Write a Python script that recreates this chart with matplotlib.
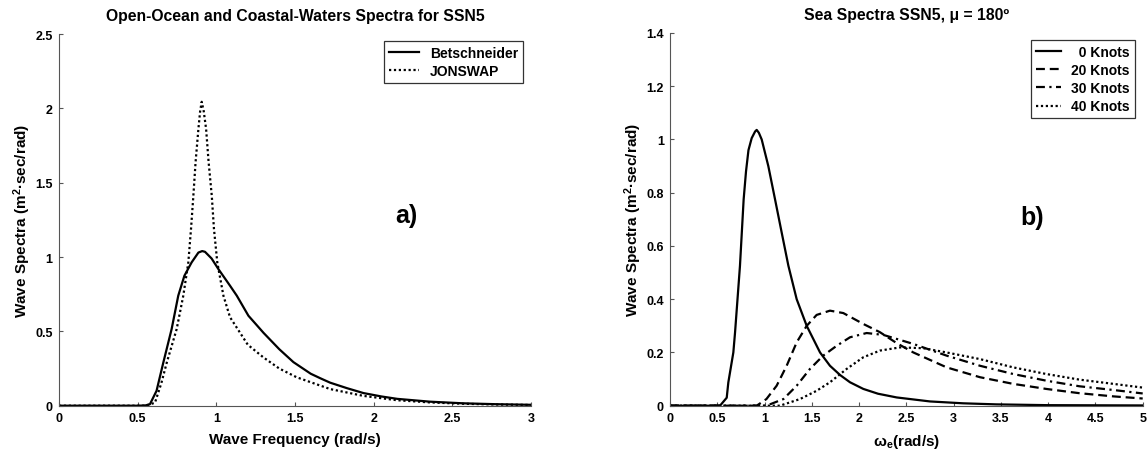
import matplotlib
matplotlib.use("Agg")
import matplotlib.pyplot as plt
from matplotlib.ticker import FuncFormatter

# ---------------- data ----------------
# Panel a) open-ocean vs coastal-waters spectra, SSN5
bret_w = [0.0, 0.5, 0.55, 0.578, 0.62, 0.663, 0.716, 0.758, 0.797, 0.843, 0.886, 0.91, 0.928,
          0.97, 1.013, 1.087, 1.13, 1.204, 1.25, 1.3, 1.4, 1.49, 1.6, 1.66, 1.723, 1.83, 1.935,
          2.05, 2.15, 2.359, 2.57, 2.78, 3.0]
bret_s = [0.0, 0.0, 0.002, 0.01, 0.10, 0.29, 0.516, 0.74, 0.874, 0.964, 1.03, 1.04, 1.035,
          0.99, 0.919, 0.807, 0.74, 0.605, 0.55, 0.49, 0.38, 0.293, 0.215, 0.185, 0.155, 0.118,
          0.085, 0.062, 0.046, 0.027, 0.016, 0.01, 0.006]
jons_w = [0.0, 0.55, 0.61, 0.65, 0.685, 0.748, 0.79, 0.822, 0.839, 0.854, 0.868, 0.886, 0.897,
          0.907, 0.92, 0.935, 0.951, 0.971, 0.985, 1.006, 1.045, 1.087, 1.2, 1.299, 1.4, 1.511,
          1.723, 1.935, 2.147, 2.359, 2.57, 2.78, 3.0]
jons_s = [0.0, 0.0, 0.02, 0.15, 0.29, 0.516, 0.74, 0.964, 1.188, 1.412, 1.637, 1.861, 1.98,
          2.044, 1.98, 1.861, 1.637, 1.412, 1.188, 0.964, 0.74, 0.595, 0.41, 0.325, 0.25, 0.191,
          0.112, 0.066, 0.037, 0.022, 0.013, 0.008, 0.005]
labels_a = ["Betschneider", "JONSWAP"]

# Panel b) encounter spectra, SSN5, mu = 180 deg
k0_w = [0.0, 0.529, 0.6, 0.617, 0.67, 0.688, 0.74, 0.779, 0.804, 0.83, 0.864, 0.9, 0.917, 0.94,
        0.97, 1.04, 1.11, 1.181, 1.252, 1.34, 1.446, 1.587, 1.692, 1.80, 1.904, 2.045, 2.2,
        2.398, 2.75, 3.1, 3.45, 4.0, 5.0]
k0_s = [0.0, 0.0, 0.03, 0.0875, 0.2, 0.275, 0.525, 0.775, 0.88, 0.96, 1.005, 1.03, 1.036, 1.025,
        1.0, 0.90, 0.777, 0.651, 0.526, 0.40, 0.30, 0.20, 0.15, 0.115, 0.088, 0.063, 0.045,
        0.031, 0.016, 0.009, 0.005, 0.002, 0.001]
k20_w = [0.0, 0.917, 1.02, 1.128, 1.234, 1.34, 1.446, 1.551, 1.692, 1.833, 2.045, 2.221, 2.398,
         2.574, 2.926, 3.279, 3.63, 3.98, 4.33, 4.69, 5.0]
k20_s = [0.0, 0.0, 0.025, 0.075, 0.15, 0.238, 0.30, 0.341, 0.357, 0.348, 0.307, 0.276, 0.235,
         0.20, 0.144, 0.107, 0.082, 0.063, 0.047, 0.035, 0.027]
k30_w = [0.0, 1.02, 1.2, 1.34, 1.48, 1.62, 1.763, 1.904, 2.08, 2.256, 2.574, 2.926, 3.279, 3.63,
         3.98, 4.33, 4.69, 5.0]
k30_s = [0.0, 0.0, 0.025, 0.075, 0.138, 0.188, 0.225, 0.257, 0.273, 0.266, 0.232, 0.188, 0.15,
         0.119, 0.094, 0.073, 0.059, 0.046]
k40_w = [0.0, 1.163, 1.375, 1.551, 1.692, 1.868, 2.045, 2.221, 2.433, 2.68, 2.926, 3.279, 3.63,
         3.98, 4.33, 4.69, 5.0]
k40_s = [0.0, 0.0, 0.025, 0.056, 0.088, 0.138, 0.182, 0.207, 0.219, 0.216, 0.20, 0.175, 0.144,
         0.119, 0.098, 0.082, 0.068]
labels_b = ["  0 Knots", "20 Knots", "30 Knots", "40 Knots"]

xticks_a = [0, 0.5, 1, 1.5, 2, 2.5, 3]
yticks_a = [0, 0.5, 1, 1.5, 2, 2.5]
xticks_b = [0, 0.5, 1, 1.5, 2, 2.5, 3, 3.5, 4, 4.5, 5]
yticks_b = [0, 0.2, 0.4, 0.6, 0.8, 1.0, 1.2, 1.4]

# ---------------- style ----------------
plt.rcParams['font.family'] = ['Liberation Sans', 'DejaVu Sans']
plt.rcParams['font.weight'] = 'bold'
plt.rcParams['mathtext.fontset'] = 'custom'
plt.rcParams['mathtext.rm'] = 'Liberation Sans:bold'
plt.rcParams['mathtext.it'] = 'Liberation Sans:bold'
plt.rcParams['mathtext.bf'] = 'Liberation Sans:bold'
plt.rcParams['mathtext.default'] = 'bf'

fig = plt.figure(figsize=(11.47, 4.52), dpi=100)
W, H = 1147.0, 452.0
axa = fig.add_axes([59 / W, 1 - 406.7 / H, (531 - 59) / W, (406.7 - 35) / H])
axb = fig.add_axes([670 / W, 1 - 406.7 / H, (1142.7 - 670) / W, (406.7 - 34) / H])

fmt = FuncFormatter(lambda v, p: ('%g' % round(v, 3)))
axis_col = '#555555'
TITLE_FS = 11.3
LABEL_FS = 11
TICK_FS = 9
LEG_FS = 10

def style(ax, xt, yt, xlim, ylim):
    ax.set_xlim(*xlim)
    ax.set_ylim(*ylim)
    ax.set_xticks(xt)
    ax.set_yticks(yt)
    ax.xaxis.set_major_formatter(fmt)
    ax.yaxis.set_major_formatter(fmt)
    for s in ['top', 'right']:
        ax.spines[s].set_visible(False)
    for s in ['left', 'bottom']:
        ax.spines[s].set_color(axis_col)
        ax.spines[s].set_linewidth(0.8)
    ax.tick_params(direction='in', length=3, width=0.8, color=axis_col,
                   labelsize=TICK_FS, pad=4.5)
    for lab in ax.get_xticklabels() + ax.get_yticklabels():
        lab.set_fontweight('bold')

def legend(ax, w, h, hl):
    lg = ax.legend(loc='upper right', bbox_to_anchor=(1.0 - 8 / w, 1.0 - 7 / h),
                   fontsize=LEG_FS, frameon=True, fancybox=False, edgecolor='black',
                   handlelength=hl, handletextpad=0.75, borderpad=0.35, labelspacing=0.3,
                   borderaxespad=0)
    lg.get_frame().set_linewidth(0.9)
    for t in lg.get_texts():
        t.set_fontweight('bold')
    return lg

# ---- panel a ----
axa.plot(bret_w, bret_s, color='black', lw=1.6, ls='-', label=labels_a[0])
axa.plot(jons_w, jons_s, color='black', lw=1.6, ls=(0, (1, 1.2)), label=labels_a[1])
style(axa, xticks_a, yticks_a, (0, 3), (0, 2.5))
axa.set_title('Open-Ocean and Coastal-Waters Spectra for SSN5', fontsize=TITLE_FS,
              fontweight='bold', pad=10)
axa.set_xlabel('Wave Frequency (rad/s)', fontsize=LABEL_FS, fontweight='bold', labelpad=6)
axa.set_ylabel('Wave Spectra (m$^2$·sec/rad)', fontsize=LABEL_FS, fontweight='bold', labelpad=1.5)
axa.text(2.21, 1.28, 'a)', fontsize=18, fontweight='bold', ha='center', va='center')
legend(axa, 472, 371.7, 2.2)

# ---- panel b ----
axb.plot(k0_w, k0_s, color='black', lw=1.6, ls='-', label=labels_b[0])
axb.plot(k20_w, k20_s, color='black', lw=1.6, ls=(0, (4, 2.2)), label=labels_b[1])
axb.plot(k30_w, k30_s, color='black', lw=1.6, ls=(0, (4, 2, 1, 2)), label=labels_b[2])
axb.plot(k40_w, k40_s, color='black', lw=1.6, ls=(0, (1, 1.2)), label=labels_b[3])
style(axb, xticks_b, yticks_b, (0, 5), (0, 1.4))
axb.set_title('Sea Spectra SSN5, μ = 180º', fontsize=TITLE_FS, fontweight='bold', pad=10)
axb.set_xlabel('ω$_e$(rad/s)', fontsize=LABEL_FS, fontweight='bold', labelpad=6)
axb.set_ylabel('Wave Spectra (m$^2$·sec/rad)', fontsize=LABEL_FS, fontweight='bold', labelpad=1.5)
axb.text(3.83, 0.709, 'b)', fontsize=18, fontweight='bold', ha='center', va='center')
legend(axb, 472.7, 372.7, 1.8)

fig.savefig('out.png', dpi=100, facecolor='white')
